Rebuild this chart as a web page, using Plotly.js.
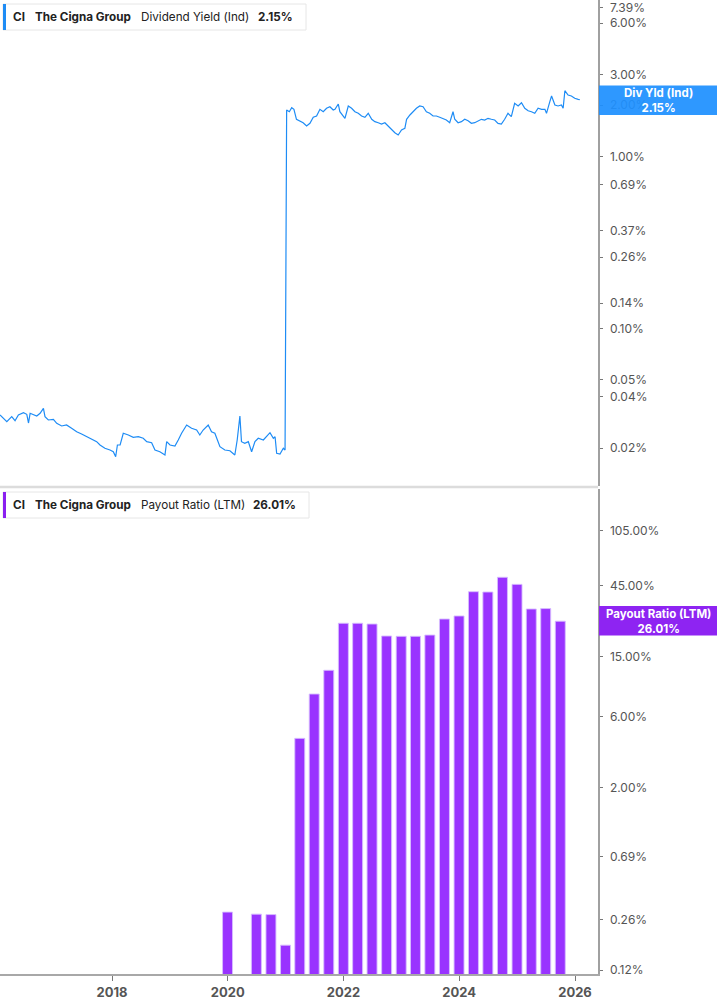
<!DOCTYPE html>
<html>
<head>
<meta charset="utf-8">
<script src="https://cdn.plot.ly/plotly-3.0.1.min.js"></script>
<style>
html,body{margin:0;padding:0;background:#fff;}
#chart{width:717px;height:1005px;}
</style>
</head>
<body>
<div id="chart"></div>
<script>
// Dividend yield (Ind), percent
const yieldDates = [
"2016-01-25","2016-02-15","2016-03-08","2016-04-08","2016-04-29","2016-05-20","2016-06-21","2016-07-12","2016-07-23","2016-08-02",
"2016-08-23","2016-09-13","2016-10-04","2016-10-25","2016-11-04","2016-11-25","2016-12-27","2017-01-17","2017-02-17","2017-03-20",
"2017-04-21","2017-05-23","2017-06-23","2017-07-25","2017-08-25","2017-09-26","2017-10-17","2017-11-17","2017-12-19","2018-01-09",
"2018-01-24","2018-02-04","2018-02-21","2018-03-13","2018-04-14","2018-05-15","2018-06-16","2018-07-17","2018-08-08","2018-09-08",
"2018-09-29","2018-10-30","2018-12-01","2018-12-12","2019-01-02","2019-02-02","2019-02-23","2019-03-16","2019-04-17","2019-05-18",
"2019-06-19","2019-07-09","2019-07-30","2019-08-31","2019-09-21","2019-10-12","2019-11-13","2019-12-14","2020-01-15","2020-02-15",
"2020-03-01","2020-03-18","2020-03-28","2020-04-18","2020-05-10","2020-05-31","2020-06-21","2020-07-12","2020-08-13","2020-09-03",
"2020-09-24","2020-10-15","2020-10-26","2020-11-05","2020-11-26","2020-12-17","2020-12-28",
"2021-01-07","2021-01-24","2021-02-08","2021-02-22","2021-03-10","2021-03-31","2021-04-21","2021-05-13","2021-06-03","2021-06-24",
"2021-07-15","2021-08-05","2021-08-26","2021-09-16","2021-10-07","2021-10-28","2021-11-08","2021-11-29","2021-12-09","2022-01-10",
"2022-01-31","2022-02-21","2022-03-14","2022-04-04","2022-04-25","2022-05-16","2022-06-06","2022-06-28","2022-07-18","2022-08-08",
"2022-08-29","2022-09-19","2022-10-10","2022-10-31","2022-11-21","2022-12-12","2023-01-02","2023-01-23","2023-02-03","2023-02-24",
"2023-03-16","2023-04-06","2023-04-27","2023-05-18","2023-06-08","2023-06-29","2023-07-20","2023-08-10","2023-08-31","2023-09-21",
"2023-10-12","2023-11-02","2023-11-23","2023-12-04","2023-12-25","2024-01-15","2024-02-05","2024-02-26","2024-03-18","2024-04-08",
"2024-04-29","2024-05-20","2024-06-10","2024-07-01","2024-07-22","2024-08-12","2024-09-02","2024-09-23","2024-10-14","2024-11-04",
"2024-11-25","2024-12-16","2025-01-07","2025-01-28","2025-02-18","2025-03-11","2025-04-01","2025-04-22","2025-05-13","2025-06-04",
"2025-06-25","2025-07-05","2025-07-26","2025-08-06","2025-08-27","2025-09-16","2025-10-07","2025-10-18","2025-10-29","2025-11-18",
"2025-12-09","2025-12-30","2026-01-21","2026-01-31"
];
const yieldValues = [
0.03125,0.02988,0.02855,0.03054,0.02894,0.03125,0.03223,0.03154,0.02806,0.03197,
0.03125,0.03083,0.03197,0.03418,0.03054,0.02922,0.02949,0.02795,0.02696,0.02732,
0.02613,0.02496,0.02421,0.02335,0.02255,0.02184,0.02089,0.02000,0.01953,0.01909,
0.01785,0.02089,0.02089,0.02444,0.02389,0.02316,0.02335,0.02286,0.02184,0.02154,
0.01953,0.01909,0.01827,0.02184,0.02089,0.02061,0.02234,0.02444,0.02732,0.02613,
0.02554,0.02389,0.02554,0.02732,0.02496,0.02444,0.02042,0.01953,0.01934,0.01827,
0.02234,0.03083,0.02184,0.02137,0.02184,0.01909,0.02184,0.02286,0.02234,0.02335,
0.02464,0.02286,0.02335,0.01869,0.01851,0.02000,0.01953,
1.872,1.829,1.930,1.889,1.652,1.621,1.578,1.510,1.565,1.697,
1.727,1.889,1.829,1.915,1.956,1.872,1.889,2.028,1.829,1.674,
1.975,1.915,1.829,1.790,1.727,1.697,1.790,1.652,1.600,1.578,
1.551,1.578,1.510,1.431,1.380,1.338,1.431,1.464,1.652,1.750,
1.829,1.915,1.975,1.956,1.829,1.790,1.727,1.727,1.697,1.674,
1.636,1.578,1.829,1.652,1.578,1.600,1.652,1.621,1.565,1.578,
1.621,1.652,1.636,1.674,1.652,1.636,1.565,1.551,1.652,1.790,
1.711,2.047,1.975,2.064,1.915,1.854,1.829,1.790,1.915,1.889,
1.889,1.790,2.092,2.258,2.001,1.975,2.001,1.915,2.424,2.288,
2.258,2.189,2.160,2.150
];

// Payout ratio (LTM), percent, quarterly
const payoutDates = [
"2019-12-31","2020-06-30","2020-09-30","2020-12-31","2021-03-31","2021-06-30","2021-09-30","2021-12-31",
"2022-03-31","2022-06-30","2022-09-30","2022-12-31","2023-03-31","2023-06-30","2023-09-30","2023-12-31",
"2024-03-31","2024-06-30","2024-09-30","2024-12-31","2025-03-31","2025-06-30","2025-09-30"
];
const payoutValues = [
0.293,0.284,0.282,0.176,4.27,8.46,12.2,25.2,
25.2,24.9,20.7,20.6,20.6,21.0,26.9,28.2,
41.0,40.8,51.2,45.9,31.4,31.6,26.01
];

const yieldTicks = [7.39,6.00,3.00,2.00,1.00,0.69,0.37,0.26,0.14,0.10,0.05,0.04,0.02];
const payoutTicks = [105,45,15,6,2,0.69,0.26,0.12];

const BLUE = "#1e8cf5";
const PURPLE = "#9933ff";
const FONT = "Inter, 'Noto Sans', sans-serif";

const H = 974; // plot area height in px
const W = 598; // plot area width in px
const px = v => v / W;
const py = v => (H - v) / H;

const barWidthMs = 63 * 86400000;

const traces = [
  {
    type: "scatter", mode: "lines",
    x: yieldDates, y: yieldValues,
    xaxis: "x", yaxis: "y",
    line: {color: BLUE, width: 1.2},
    hoverinfo: "skip"
  },
  {
    type: "bar",
    x: payoutDates, y: payoutValues,
    xaxis: "x2", yaxis: "y2",
    width: payoutDates.map(() => barWidthMs),
    marker: {color: PURPLE, line: {color: "rgba(215,190,255,0.9)", width: 1}},
    hoverinfo: "skip"
  }
];

const xrange = ["2016-01-25", "2026-05-26"];

function legendBox(y0, y1, x1, color) {
  return [
    {type: "rect", xref: "paper", yref: "paper", x0: px(3), x1: px(x1), y0: py(y1), y1: py(y0),
     line: {color: "#e6e6e6", width: 1}, fillcolor: "#ffffff", layer: "above"},
    {type: "rect", xref: "paper", yref: "paper", x0: px(3), x1: px(6), y0: py(y1), y1: py(y0),
     line: {width: 0}, fillcolor: color, layer: "above"}
  ];
}

const shapes = [
  ...legendBox(4, 30, 306, BLUE),
  ...legendBox(492, 518, 309, "#8a1ff0"),
  // separator between panels
  {type: "line", xref: "paper", yref: "paper", x0: 0, x1: 1, y0: py(487), y1: py(487),
   line: {color: "#dcdcdc", width: 2.5}, layer: "above"},
  // right-side value boxes
  {type: "rect", xref: "paper", yref: "paper", x0: px(599), x1: px(717), y0: py(115), y1: py(85.5),
   line: {width: 0}, fillcolor: "#1e90ff", opacity: 0.93, layer: "above"},
  {type: "rect", xref: "paper", yref: "paper", x0: px(599), x1: px(717), y0: py(635.5), y1: py(606),
   line: {width: 0}, fillcolor: "#8e24f2", layer: "above"}
];

function ann(text, x, y, opts) {
  return Object.assign({
    text: text, xref: "paper", yref: "paper", x: px(x), y: py(y),
    xanchor: "left", yanchor: "middle", showarrow: false,
    font: {family: FONT, size: 11.7, color: "#222"}
  }, opts || {});
}

const annotations = [
  ann("<b>CI</b>", 11, 17),
  ann("<b>The Cigna Group</b>", 33, 17),
  ann("Dividend Yield (Ind)", 139, 17),
  ann("<b>2.15%</b>", 256, 17),
  ann("<b>CI</b>", 11, 505),
  ann("<b>The Cigna Group</b>", 33, 505),
  ann("Payout Ratio (LTM)", 139, 505),
  ann("<b>26.01%</b>", 251, 505),
  ann("<b>Div Yld (Ind)</b><br><b>2.15%</b>", 658, 100.5,
      {xanchor: "center", font: {family: FONT, size: 11.5, color: "#ffffff"}}),
  ann("<b>Payout Ratio (LTM)</b><br><b>26.01%</b>", 658, 621,
      {xanchor: "center", font: {family: FONT, size: 11.5, color: "#ffffff"}})
];

const yCommon = {
  type: "log", side: "right", showgrid: false, zeroline: false,
  showline: true, linecolor: "#a0a0a0", linewidth: 1.5,
  ticks: "outside", ticklen: 3, tickcolor: "#777", tickwidth: 1,
  tickfont: {family: FONT, size: 12, color: "#555"},
  ticklabelstandoff: 5, ticklabeloverflow: "allow", fixedrange: true
};

const layout = {
  width: 717, height: 1005,
  margin: {l: 0, r: 119, t: 0, b: 31, pad: 0},
  paper_bgcolor: "#ffffff", plot_bgcolor: "#ffffff",
  showlegend: false,
  font: {family: FONT},
  xaxis: {
    type: "date", range: xrange, domain: [0, 1], anchor: "y",
    showticklabels: false, ticks: "", showgrid: false, zeroline: false, showline: false
  },
  xaxis2: {
    type: "date", range: xrange, domain: [0, 1], anchor: "y2", matches: "x",
    tick0: "2018-01-01", dtick: "M24", tickformat: "%Y",
    showgrid: false, zeroline: false,
    showline: true, linecolor: "#a8a8a8", linewidth: 2,
    ticks: "outside", ticklen: 5, tickcolor: "#777", tickwidth: 1,
    tickfont: {family: FONT, size: 13, color: "#555", weight: "bold"}
  },
  yaxis: Object.assign({}, yCommon, {
    domain: [488 / H, 1], anchor: "x",
    range: [-1.919, 0.9132],
    tickvals: yieldTicks,
    ticktext: yieldTicks.map(v => v.toFixed(2) + "%")
  }),
  yaxis2: Object.assign({}, yCommon, {
    domain: [0, 485 / H], anchor: "x2",
    range: [-0.9476, 2.3005],
    tickvals: payoutTicks,
    ticktext: payoutTicks.map(v => v.toFixed(2) + "%")
  }),
  bargap: 0.3,
  shapes: shapes,
  annotations: annotations
};

Plotly.newPlot("chart", traces, layout, {displayModeBar: false, staticPlot: true});
</script>
</body>
</html>
